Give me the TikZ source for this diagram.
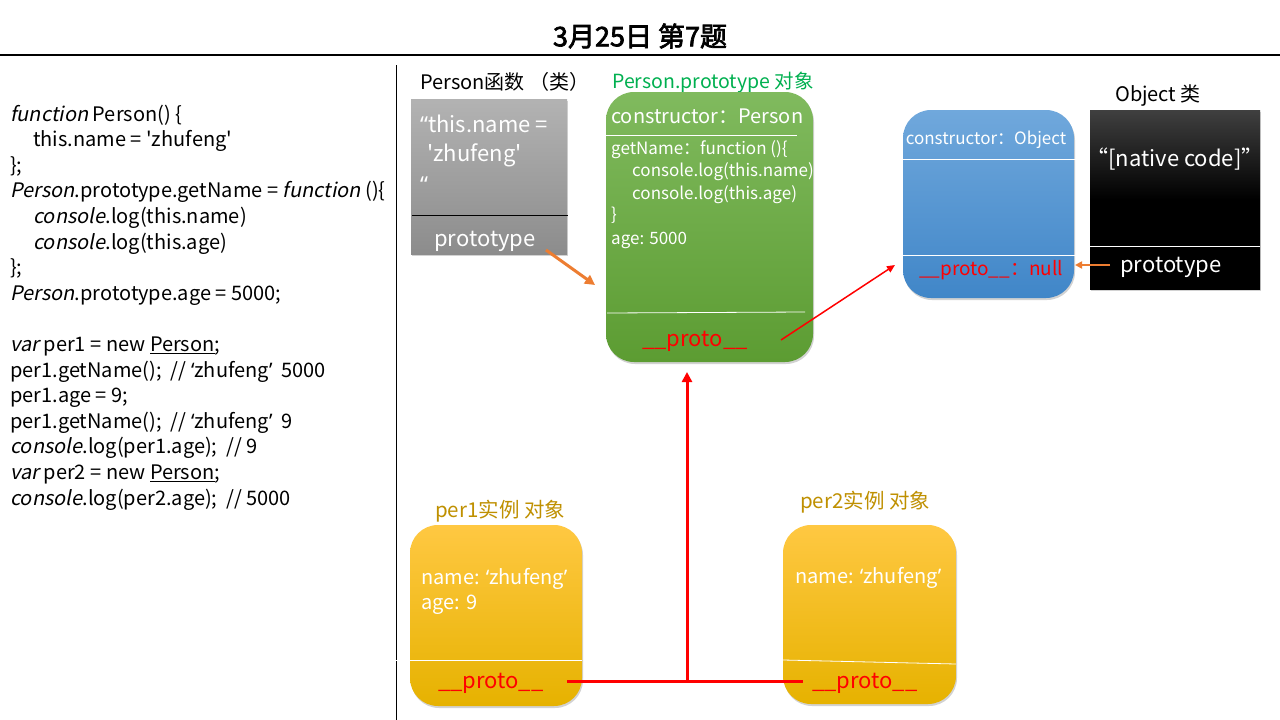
\documentclass[tikz,border=0pt]{standalone}
\usepackage{fontspec}
\setmainfont{Noto Sans CJK SC}[AutoFakeSlant=0.2,AutoFakeBold=2.5]
\newfontfamily\latinf{Noto Sans}
\newcommand\myqo{{\latinf ‘}}
\newcommand\myqc{{\latinf ’}}
\newcommand\mydqo{{\latinf “}}
\newcommand\mysq{\textquotesingle}
\usetikzlibrary{arrows.meta,shadows}
\definecolor{jsgreen}{HTML}{00B050}
\definecolor{gold}{HTML}{BF9000}
\definecolor{arrorange}{HTML}{ED7D31}
\tikzset{
  fs/.style={font=\fontsize{#1}{#1}\selectfont},
  box/.style={inner sep=0pt, drop shadow={opacity=0.35,shadow xshift=1pt,shadow yshift=-2pt}},
  rbox/.style={box, rounded corners=28pt},
  wtext/.style={text=white, inner sep=0pt},
  lbl/.style={inner sep=0pt, anchor=base west},
  divline/.style={white, line width=0.8pt},
  redthick/.style={red, line width=3pt},
}
\begin{document}
\begin{tikzpicture}[x=1pt,y=-1pt]
\useasboundingbox (0,0) rectangle (1280,720);
\fill[white] (0,0) rectangle (1280,720);
% title
\node[font=\fontsize{27}{27}\selectfont\bfseries, inner sep=0pt] (title) at (640,36) {3月25日 第7题};
\draw[line width=2.2pt] (0,55) -- (1280,55);
\draw[line width=0.8pt] (396,65) -- (396,720);
% code
\node[anchor=north west, inner sep=0pt, align=left, font=\fontsize{20}{25.6}\selectfont] (code) at (10,104.5) {%
\textit{function} Person() \{\\
\hspace*{23pt}this.name = \mysq zhufeng\mysq\\
\};\\
\textit{Person}.prototype.getName = \textit{function} ()\{\\
\hspace*{23pt}\textit{console}.log(this.name)\\
\hspace*{23pt}\textit{console}.log(this.age)\\
\};\\
\textit{Person}.prototype.age = 5000;\\
\mbox{}\\
\textit{var} per1 = new \underline{Person};\\
per1.getName();\ \ // \myqo zhufeng\myqc\ \ 5000\\
per1.age = 9;\\
per1.getName();\ \ // \myqo zhufeng\myqc\ \ 9\\
\textit{console}.log(per1.age);\ \ // 9\\
\textit{var} per2 = new \underline{Person};\\
\textit{console}.log(per2.age);\ \ // 5000};
% labels
\node[lbl, fs=20] (lblfn) at (420,89) {Person函数 （类）};
\node[lbl, fs=19.5, text=jsgreen] (lblproto) at (612,88) {Person.prototype 对象};
\node[lbl, fs=20] (lblobj) at (1115,101) {Object 类};
\node[lbl, fs=20.5, text=gold] (lblp1) at (435,517) {per1实例 对象};
\node[lbl, fs=20.5, text=gold] (lblp2) at (800,508) {per2实例 对象};
% gray box (Person function)
\node[box, top color=black!30, bottom color=black!45, minimum width=156pt, minimum height=155pt] (fnbox) at (489,176.5) {};
\draw[black, line width=0.8pt] (412,215) -- (568,215);
\node[lbl, wtext, fs=22] (fn1) at (420,132) {\mydqo this.name =};
\node[lbl, wtext, fs=22] (fn2) at (427,161) {\mysq zhufeng\mysq};
\node[lbl, wtext, fs=22] (fn3) at (420,192) {\mydqo};
\node[wtext, fs=22, anchor=base] (fnproto) at (485,246) {prototype};
% green box (Person.prototype)
\node[rbox, top color={rgb,255:red,128;green,186;blue,94}, bottom color={rgb,255:red,92;green,156;blue,50}, minimum width=207pt, minimum height=270pt] (protobox) at (709.5,227) {};
\draw[divline] (606,135) -- (797,135);
\draw[divline] (607,313) -- (805,312);
\node[lbl, wtext, fs=20] (pc) at (611,123) {constructor：Person};
\node[lbl, wtext, fs=17] (pg1) at (611,154) {getName：function ()\{};
\node[lbl, wtext, fs=17] (pg2) at (632,176) {console.log(this.name)};
\node[lbl, wtext, fs=17] (pg3) at (632,199) {console.log(this.age)};
\node[lbl, wtext, fs=17] (pg4) at (611,220) {\}};
\node[lbl, wtext, fs=17] (pa) at (611,244) {age: 5000};
\node[text=red, fs=22, anchor=base, inner sep=0pt] (pproto) at (695,346) {\_\_proto\_\_};
% blue box (Object.prototype)
\node[rbox, top color={rgb,255:red,112;green,168;blue,220}, bottom color={rgb,255:red,64;green,134;blue,200}, minimum width=171pt, minimum height=188pt] (objproto) at (988.5,204) {};
\draw[divline] (900,159) -- (1077,159);
\draw[divline] (900,255) -- (1077,255);
\node[wtext, fs=17, anchor=base] (oc) at (986,144) {constructor：Object};
\node[text=red, fs=19, anchor=base, inner sep=0pt] (onull) at (991,275) {\_\_proto\_\_：null};
% black box (Object)
\node[box, top color=black!75, bottom color=black, middle color=black, minimum width=170pt, minimum height=179pt] (objbox) at (1175,199.5) {};
\draw[divline] (1090,246) -- (1260,246);
\node[wtext, fs=22, anchor=base] (native) at (1175,166) {“[native code]”};
\node[lbl, wtext, fs=22] (oproto) at (1120,272) {prototype};
% per1 box
\node[rbox, top color={rgb,255:red,255;green,200;blue,66}, middle color={rgb,255:red,255;green,192;blue,0}, bottom color={rgb,255:red,230;green,178;blue,0}, minimum width=172pt, minimum height=181pt] (p1box) at (496,615.5) {};
\draw[divline] (395,660) -- (582,660);
\node[lbl, wtext, fs=20] (p1n) at (421,584) {name: \myqo zhufeng\myqc};
\node[lbl, wtext, fs=20] (p1a) at (421,609) {age: 9};
\node[lbl, text=red, fs=22] (p1proto) at (438,688) {\_\_proto\_\_};
% per2 box
\node[rbox, top color={rgb,255:red,255;green,200;blue,66}, middle color={rgb,255:red,255;green,192;blue,0}, bottom color={rgb,255:red,230;green,178;blue,0}, minimum width=173pt, minimum height=179pt] (p2box) at (869.5,614.5) {};
\draw[divline] (783,660) -- (956,664);
\node[lbl, wtext, fs=20] (p2n) at (795,583) {name: \myqo zhufeng\myqc};
\node[lbl, text=red, fs=22] (p2proto) at (812,688) {\_\_proto\_\_};
% connectors
\coordinate (a1s) at (546,250);
\coordinate (a1e) at (595,285);
\draw[arrorange, line width=3pt, -{Triangle[length=10pt,width=10pt]}] (a1s) -- (a1e);
\coordinate (a2s) at (781,340);
\coordinate (a2e) at (895,265);
\draw[red, line width=1.5pt, -{Triangle[length=8pt,width=7pt]}] (a2s) -- (a2e);
\coordinate (a3s) at (1110,265);
\coordinate (a3e) at (1075,265);
\draw[arrorange, line width=2pt, -{Triangle[length=7pt,width=7pt]}] (a3s) -- (a3e);
\coordinate (j1) at (567,681);
\coordinate (j2) at (803,681);
\coordinate (jm) at (687,681);
\coordinate (jtop) at (687,372);
\draw[redthick] (j1) -- (j2);
\draw[redthick, -{Triangle[length=10pt,width=10pt]}] (jm) -- (jtop);
\end{tikzpicture}
\end{document}
